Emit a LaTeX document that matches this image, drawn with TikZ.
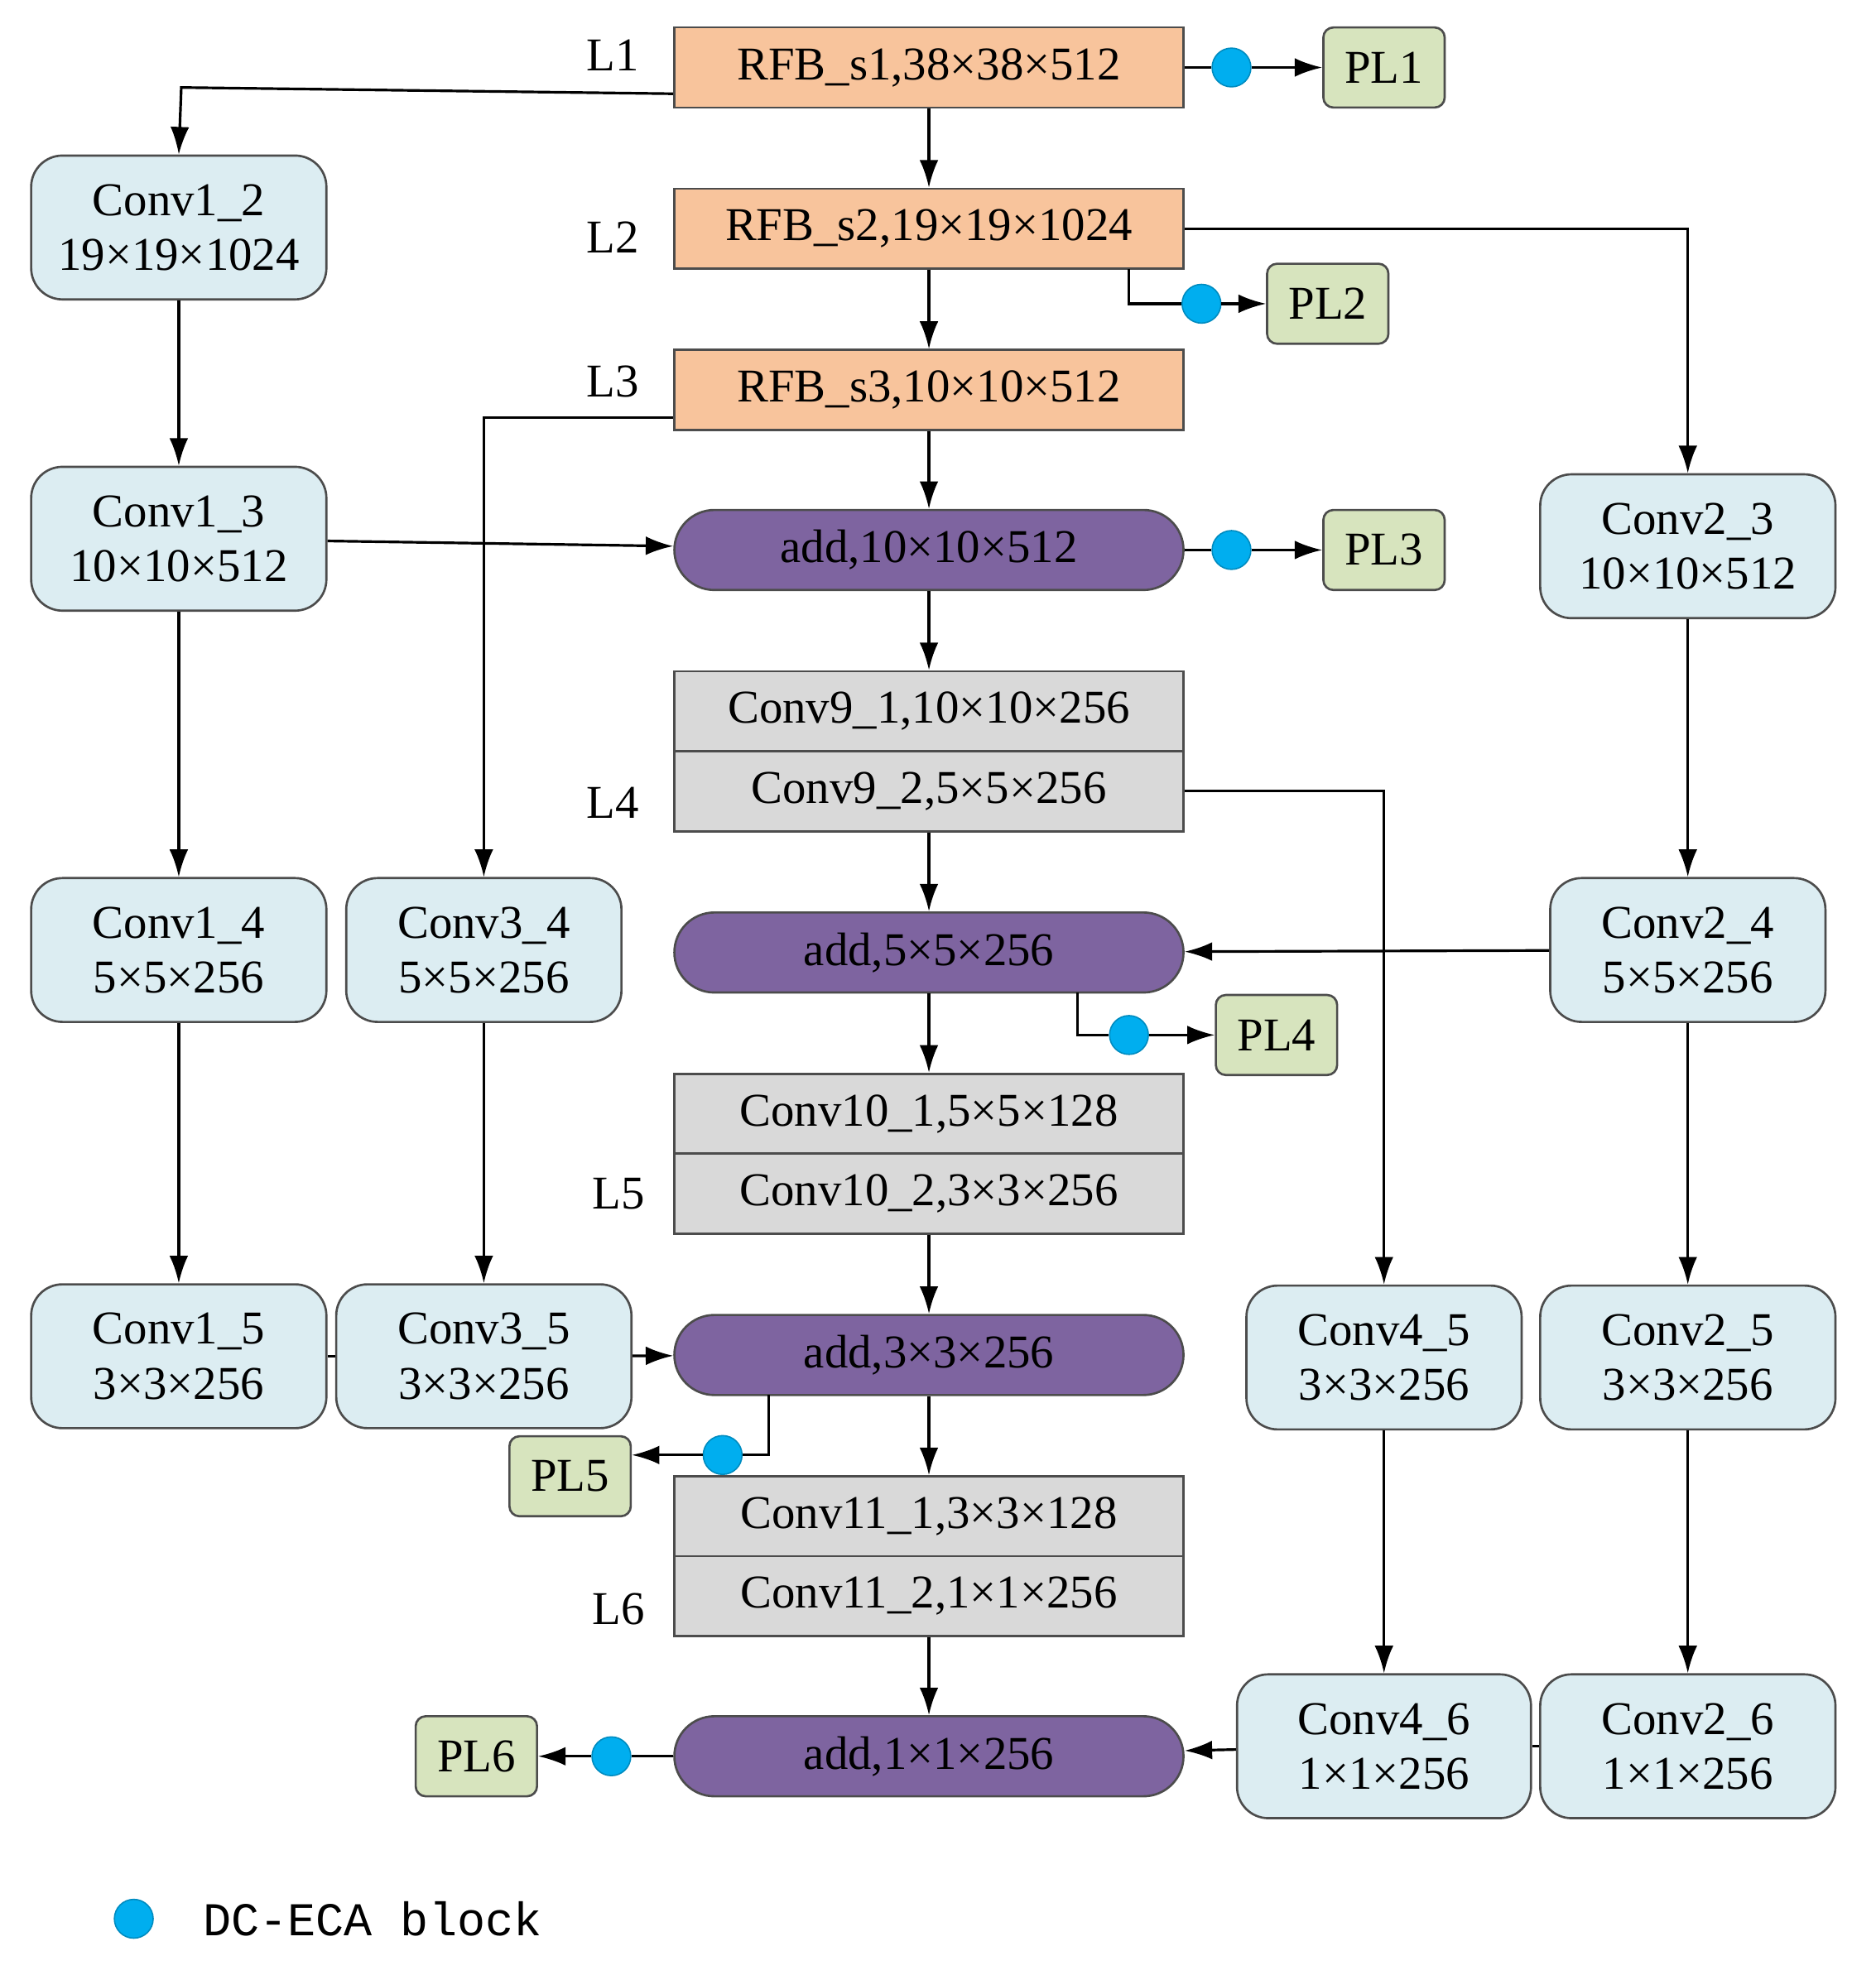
\documentclass[tikz,border=0pt]{standalone}
\usepackage{fontspec}
\setmainfont{Liberation Serif}
\newfontfamily\monofont{Liberation Mono}
\usetikzlibrary{arrows.meta}
\definecolor{rfbfill}{HTML}{F8C49C}
\definecolor{convfill}{HTML}{DCEDF2}
\definecolor{grayfill}{HTML}{D9D9D9}
\definecolor{addfill}{HTML}{7E64A0}
\definecolor{plfill}{HTML}{D7E4BE}
\definecolor{dotfill}{HTML}{00AEEF}
\tikzset{
  base/.style={draw=black!70, line width=.5pt, inner sep=0pt, align=center,
    font=\fontsize{10.7}{12.5}\selectfont},
  rfb/.style={base, fill=rfbfill, minimum width=4.07cm, minimum height=.64cm},
  gbox/.style={base, fill=grayfill, minimum width=4.07cm, minimum height=.64cm},
  addn/.style={base, fill=addfill, rounded corners=.32cm, minimum width=4.07cm, minimum height=.64cm},
  pl/.style={base, fill=plfill, rounded corners=.08cm, minimum width=.97cm, minimum height=.64cm},
  conv/.style={base, fill=convfill, rounded corners=.25cm, minimum width=2.36cm, minimum height=1.15cm},
  convs/.style={conv, minimum width=2.2cm},
  eca/.style={circle, fill=dotfill, draw=dotfill!80!black, line width=.3pt, minimum size=.31cm, inner sep=0pt},
  lab/.style={font=\fontsize{10.7}{12.5}\selectfont},
  arr/.style={-{Latex[length=.22cm,width=.15cm]}, line width=.6pt},
  ln/.style={line width=.6pt}
}
\begin{document}
\begin{tikzpicture}[x=0.01cm, y=-0.01cm]
  \useasboundingbox (0,0) rectangle (1500,1580);

  % centre column
  \node[rfb] (rfb1) at (743,54) {RFB\_s1,38×38×512};
  \node[rfb] (rfb2) at (743,183) {RFB\_s2,19×19×1024};
  \node[rfb] (rfb3) at (743,312) {RFB\_s3,10×10×512};
  \node[addn] (add1) at (743,440) {add,10×10×512};
  \node[gbox] (c91) at (743,569) {Conv9\_1,10×10×256};
  \node[gbox] (c92) at (743,633) {Conv9\_2,5×5×256};
  \node[addn] (add2) at (743,762) {add,5×5×256};
  \node[gbox] (c101) at (743,891) {Conv10\_1,5×5×128};
  \node[gbox] (c102) at (743,955) {Conv10\_2,3×3×256};
  \node[addn] (add3) at (743,1084) {add,3×3×256};
  \node[gbox] (c111) at (743,1213) {Conv11\_1,3×3×128};
  \node[gbox] (c112) at (743,1277) {Conv11\_2,1×1×256};
  \node[addn] (add4) at (743,1405) {add,1×1×256};

  \node[lab] (l1) at (490,44) {L1};
  \node[lab] (l2) at (490,190) {L2};
  \node[lab] (l3) at (490,305) {L3};
  \node[lab] (l4) at (490,642) {L4};
  \node[lab] (l5) at (495,955) {L5};
  \node[lab] (l6) at (495,1287) {L6};

  % prediction layers
  \node[pl] (pl1) at (1107,54) {PL1};
  \node[pl] (pl2) at (1062,243) {PL2};
  \node[pl] (pl3) at (1107,440) {PL3};
  \node[pl] (pl4) at (1021,828) {PL4};
  \node[pl] (pl5) at (456,1181) {PL5};
  \node[pl] (pl6) at (381,1405) {PL6};

  \node[eca] (d1) at (985,54) {};
  \node[eca] (d2) at (961,243) {};
  \node[eca] (d3) at (985,440) {};
  \node[eca] (d4) at (903,828) {};
  \node[eca] (d5) at (578,1164) {};
  \node[eca] (d6) at (489,1405) {};

  % side branches
  \node[conv] (c12) at (143,182) {Conv1\_2\\19×19×1024};
  \node[conv] (c13) at (143,431) {Conv1\_3\\10×10×512};
  \node[conv] (c14) at (143,760) {Conv1\_4\\5×5×256};
  \node[conv] (c15) at (143,1085) {Conv1\_5\\3×3×256};
  \node[convs] (c34) at (387,760) {Conv3\_4\\5×5×256};
  \node[conv] (c35) at (387,1085) {Conv3\_5\\3×3×256};
  \node[conv] (c23) at (1350,437) {Conv2\_3\\10×10×512};
  \node[convs] (c24) at (1350,760) {Conv2\_4\\5×5×256};
  \node[conv] (c25) at (1350,1086) {Conv2\_5\\3×3×256};
  \node[conv] (c26) at (1350,1397) {Conv2\_6\\1×1×256};
  \node[convs] (c45) at (1107,1086) {Conv4\_5\\3×3×256};
  \node[conv, minimum width=2.35cm] (c46) at (1107,1397) {Conv4\_6\\1×1×256};

  % legend
  \node[eca] (dl) at (107,1535) {};
  \node[anchor=west, font=\monofont\fontsize{10.7}{12.5}\selectfont] (tl) at (150,1535) {DC-ECA block};

  % main flow
  \draw[arr] (rfb1) -- (rfb2);
  \draw[arr] (rfb2) -- (rfb3);
  \draw[arr] (rfb3) -- (add1);
  \draw[arr] (add1) -- (c91);
  \draw[arr] (c92) -- (add2);
  \draw[arr] (add2) -- (c101);
  \draw[arr] (c102) -- (add3);
  \draw[arr] (add3) -- (c111);
  \draw[arr] (c112) -- (add4);

  % to prediction layers
  \draw[ln] (rfb1) -- (d1);
  \draw[arr] (d1) -- (pl1);
  \draw[ln] (rfb2.south -| d4.north) ++(0,0) coordinate (b2) |- (d2);
  \draw[ln] (903,215) |- (d2);
  \draw[arr] (d2) -- (pl2);
  \draw[ln] (add1) -- (d3);
  \draw[arr] (d3) -- (pl3);
  \draw[ln] (862,794) |- (d4);
  \draw[arr] (d4) -- (pl4);
  \draw[ln] (615,1116) |- (d5);
  \draw[arr] (d5) -- (pl5.east |- d5);
  \draw[ln] (add4) -- (d6);
  \draw[arr] (d6) -- (pl6);

  % left branches
  \draw[arr] (rfb1.west |- 0,75) -- (145,70) -- (c12.north);
  \draw[arr] (c12) -- (c13);
  \draw[arr] (c13) -- (c14);
  \draw[arr] (c14) -- (c15);
  \draw[arr] (c13) -- (add1);
  \draw[arr] (rfb3.west |- 0,334) -| (c34.north);
  \draw[arr] (c34) -- (c35);
  \draw[ln] (c15) -- (c35);
  \draw[arr] (c35) -- (add3);

  % right branches
  \draw[arr] (rfb2) -| (c23.north);
  \draw[arr] (c23) -- (c24);
  \draw[arr] (c24) -- (c25);
  \draw[arr] (c25) -- (c26);
  \draw[arr] (c24) -- (add2);
  \draw[arr] (c92) -| (c45.north);
  \draw[arr] (c45) -- (c46);
  \draw[ln] (c26) -- (c46);
  \draw[arr] (c46) -- (add4);
\end{tikzpicture}
\end{document}
